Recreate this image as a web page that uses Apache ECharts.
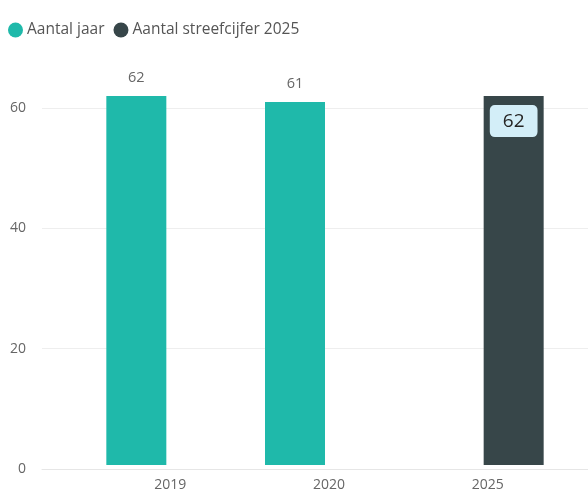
<!DOCTYPE html>
<html>
<head>
<meta charset="utf-8">
<script src="https://cdn.jsdelivr.net/npm/echarts@6/dist/echarts.min.js"></script>
<style>html,body{margin:0;padding:0;background:#fff}#c{width:588px;height:492px}</style>
</head>
<body>
<div id="c"></div>
<script>
var categories = ['2019', '2020', '2025'];
var aantalJaar = [62, 61, null];
var streefcijfer = [null, null, 62];
var yTicks = [0, 20, 40, 60];

var font = "'Open Sans', 'Noto Sans', sans-serif";
var chart = echarts.init(document.getElementById('c'));
chart.setOption({
  animation: false,
  textStyle: { fontFamily: font },
  legend: {
    left: 3, top: 17,
    icon: 'circle', itemWidth: 15, itemHeight: 15, itemGap: 9,
    textStyle: { fontFamily: font, fontSize: 15.5, color: '#555555', padding: [0, 0, 0, -1] },
    data: ['Aantal jaar', 'Aantal streefcijfer 2025']
  },
  grid: [
    { left: 42, right: 0, top: 108, bottom: 23 },
    { left: 87, right: 25, top: 108, bottom: 23 }
  ],
  xAxis: [
    { gridIndex: 0, type: 'category', data: [''], axisLine: { show: true, lineStyle: { color: '#E6E6E6' } }, axisTick: { show: false }, axisLabel: { show: false } },
    { gridIndex: 1, type: 'category', data: categories, axisLine: { show: false }, axisTick: { show: false },
      axisLabel: { color: '#666666', fontSize: 14, fontFamily: font, margin: 13, padding: [0, 0, 0, 8] } }
  ],
  yAxis: [
    { gridIndex: 0, type: 'value', min: yTicks[0], max: yTicks[yTicks.length - 1], interval: 20,
      axisLabel: { color: '#666666', fontSize: 14, fontFamily: font, margin: 16 },
      splitLine: { lineStyle: { color: '#EEEEEE' } }, axisLine: { show: false }, axisTick: { show: false } },
    { gridIndex: 1, type: 'value', min: yTicks[0], max: yTicks[yTicks.length - 1], show: false }
  ],
  series: [
    { name: 'Aantal jaar', type: 'bar', xAxisIndex: 1, yAxisIndex: 1, data: aantalJaar,
      barWidth: 60, barGap: '0%', clip: false,
      itemStyle: { color: '#1FB9AA' },
      label: { show: true, position: 'top', distance: 11, color: '#666666', fontSize: 14.5, fontFamily: font } },
    { name: 'Aantal streefcijfer 2025', type: 'bar', xAxisIndex: 1, yAxisIndex: 1, data: streefcijfer,
      barWidth: 60, barGap: '0%', clip: false,
      itemStyle: { color: '#374649' },
      label: { show: true, position: 'insideTop', distance: 9, color: '#252423', fontSize: 19, fontFamily: font,
        backgroundColor: '#D3EEF8', borderRadius: 5, padding: [4, 13, 3, 13], lineHeight: 25 } }
  ]
});
</script>
</body>
</html>
